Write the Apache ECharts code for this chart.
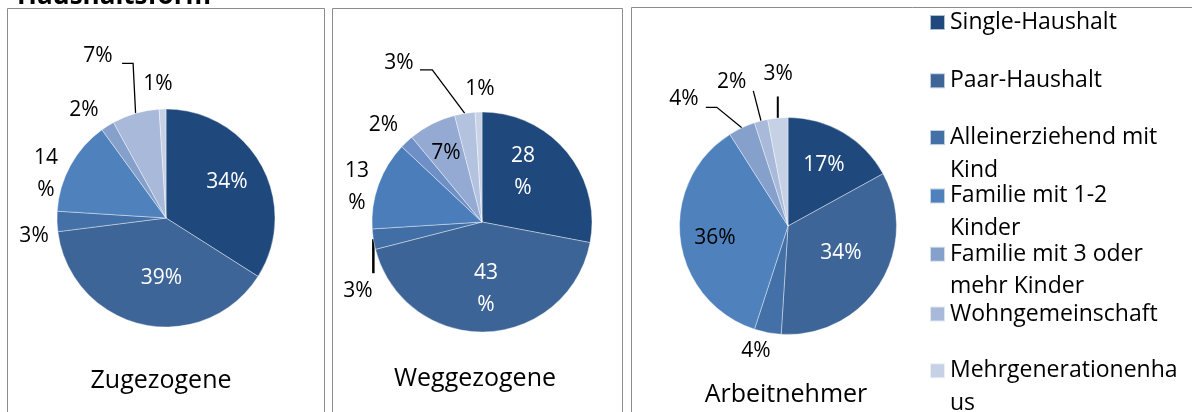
<!DOCTYPE html>
<html>
<head>
<meta charset="utf-8">
<script src="https://cdn.jsdelivr.net/npm/echarts/dist/echarts.min.js"></script>
<style>
  html, body { margin: 0; padding: 0; background: #ffffff; }
  #chart { width: 1192px; height: 412px; }
</style>
</head>
<body>
<div id="chart"></div>
<script>
// ---------------- data ----------------
const chartTitle = 'Haushaltsform';
const categories = [
  'Single-Haushalt',
  'Paar-Haushalt',
  'Alleinerziehend mit Kind',
  'Familie mit 1-2 Kinder',
  'Familie mit 3 oder mehr Kinder',
  'Wohngemeinschaft',
  'Mehrgenerationenhaus'
];
const legendLabels = [
  'Single-Haushalt',
  'Paar-Haushalt',
  'Alleinerziehend mit\nKind',
  'Familie mit 1-2\nKinder',
  'Familie mit 3 oder\nmehr Kinder',
  'Wohngemeinschaft',
  'Mehrgenerationenha\nus'
];
const extraCategory = 'Sonstige';
const weggezogeneCategories = categories.slice(0, 5).concat([extraCategory], categories.slice(5));
const groupTitles = ['Zugezogene', 'Weggezogene', 'Arbeitnehmer'];
const zugezogeneValues = [34, 39, 3, 14, 2, 7, 1];
const weggezogeneValues = [28, 43, 3, 13, 2, 7, 3, 1];
const arbeitnehmerValues = [17, 34, 4, 36, 4, 2, 3];

// ---------------- styles / layout ----------------
const FONT = '"Open Sans", "Noto Sans", sans-serif';
const paletteA = ['#1F497D', '#3E6597', '#4470A8', '#4F81BD', '#84A0CB', '#A8B9D9', '#C6D1E5'];
const paletteB = ['#1F497D', '#3D6496', '#426EA6', '#4A7DBA', '#6F90C6', '#95AAD3', '#B2C2DF', '#C9D3E6'];

// label placement relative to the slice's outer mid-point (at), optional leader line
const labels1 = [
  { at: [-34.5, 16.5], fill: '#ffffff' },
  { at: [19.3, -46.4], fill: '#ffffff' },
  { at: [-23, 14.6] },
  { at: [-24.5, 8.5], wrap: true },
  { at: [-23.6, -16] },
  { at: [-37.6, -57.3], line: [[-2.5, -50], [-13.5, -50]] },
  { at: [-4.6, -25] }
];
const labels2 = [
  { at: [-43.8, 20.1], fill: '#ffffff', wrap: true },
  { at: [0.5, -42.9], fill: '#ffffff', wrap: true },
  { at: [-15.4, 51.8], line: [[0, 34]], lineWidth: 2.5 },
  { at: [-21.5, 1.8], wrap: true },
  { at: [-23.2, -16.8] },
  { at: [13.9, 29.5] },
  { at: [-65.8, -50.4], line: [[-32.5, -43.4], [-44.8, -43.4]] },
  { at: [1.5, -23] }
];
const labels3 = [
  { at: [-19.2, 32.4], fill: '#ffffff' },
  { at: [-38.6, -31.1], fill: '#ffffff' },
  { at: [-11.7, 18.4] },
  { at: [34.6, -1.6] },
  { at: [-57.8, -29], line: [[-25, -20.5], [-36, -20.5]] },
  { at: [-29.3, -39.2], line: [[-7.7, -30]] },
  { at: [0.5, -44.2], line: [[0, -21.5]], lineWidth: 2 }
];

const pies = [
  { values: zugezogeneValues, names: categories, colors: paletteA, center: [166, 218], radius: 109, labels: labels1 },
  { values: weggezogeneValues, names: weggezogeneCategories, colors: paletteB, center: [482, 222], radius: 110, labels: labels2 },
  { values: arbeitnehmerValues, names: categories, colors: paletteA, center: [788, 226], radius: 108.5, labels: labels3 }
];

function makeLayout(spec) {
  return function (p) {
    const s = spec[p.dataIndex];
    const r = p.labelRect;
    const ax = p.align === 'right' ? r.x + r.width : (p.align === 'left' ? r.x : r.x + r.width / 2);
    const ay = r.y + r.height / 2;
    const out = { x: ax + s.at[0], y: ay + s.at[1], align: 'center', verticalAlign: 'middle' };
    if (s.line) {
      const pts = [[ax, ay]].concat(s.line.map(q => [ax + q[0], ay + q[1]]));
      if (pts.length === 2) pts.push(pts[1].slice());
      out.labelLinePoints = pts;
    }
    return out;
  };
}

function buildSeries(cfg) {
  return {
    type: 'pie',
    center: cfg.center,
    radius: cfg.radius,
    startAngle: 90,
    clockwise: true,
    avoidLabelOverlap: false,
    silent: true,
    animation: false,
    itemStyle: { borderColor: 'rgba(255,255,255,0.65)', borderWidth: 0.6 },
    label: {
      show: true,
      position: 'outside',
      distanceToLabelLine: 0,
      fontFamily: FONT,
      fontSize: 21,
      lineHeight: 32,
      color: '#000000',
      formatter: p => cfg.labels[p.dataIndex].wrap ? p.value + '\n%' : p.value + '%'
    },
    labelLine: { show: true, length: 0, length2: 0, smooth: false, lineStyle: { color: '#000000', width: 1.3 } },
    emphasis: { disabled: true, scale: false },
    data: cfg.values.map((v, i) => {
      const s = cfg.labels[i];
      const item = { name: cfg.names[i], value: v, itemStyle: { color: cfg.colors[i] } };
      if (s.fill) item.label = { color: s.fill };
      item.labelLine = { show: !!s.line, lineStyle: { width: s.lineWidth || 1.3 } };
      return item;
    }),
    labelLayout: makeLayout(cfg.labels)
  };
}

const LH = 32.5;
const legendFirst = 21, legendStep = 58.3;
const legends = categories.map((name, i) => {
  const two = legendLabels[i].indexOf('\n') >= 0;
  const yc = legendFirst + i * legendStep;
  return {
    orient: 'vertical',
    left: 929,
    top: two ? yc - 1.5 * LH : yc - LH / 2 + 1.5,
    padding: 0,
    itemWidth: 15,
    itemHeight: 15,
    itemGap: 0,
    icon: 'rect',
    selectedMode: false,
    data: [name],
    // a leading blank line keeps the first text line level with the colour key
    formatter: () => (two ? '\n' : '') + legendLabels[i],
    textStyle: { fontFamily: FONT, fontSize: 23, color: '#000000', lineHeight: LH }
  };
});

const titleStyle = { fontFamily: FONT, fontSize: 25, fontWeight: 'normal', color: '#000000' };
const titleX = [161, 475, 786];
const titleY = [368, 366, 382];

const option = {
  backgroundColor: '#ffffff',
  animation: false,
  title: [
    { text: chartTitle, left: 17, top: -16, padding: 0, textStyle: { fontFamily: FONT, fontSize: 26, fontWeight: 'bold', color: '#000000' } }
  ].concat(groupTitles.map((t, i) => ({ text: t, left: titleX[i], top: titleY[i], textAlign: 'center', padding: 0, textStyle: titleStyle }))),
  legend: legends,
  graphic: [
    { type: 'rect', silent: true, z: -10, shape: { x: 7.5, y: 8.5, width: 317, height: 430 }, style: { fill: null, stroke: '#8c8c8c', lineWidth: 1 } },
    { type: 'rect', silent: true, z: -10, shape: { x: 332.5, y: 8.5, width: 290, height: 430 }, style: { fill: null, stroke: '#8c8c8c', lineWidth: 1 } },
    { type: 'rect', silent: true, z: -10, shape: { x: 631.5, y: 7.5, width: 620, height: 430 }, style: { fill: null, stroke: '#8c8c8c', lineWidth: 1 } }
  ],
  series: pies.map(buildSeries)
};

const chart = echarts.init(document.getElementById('chart'), null, { renderer: 'canvas' });
chart.setOption(option);
</script>
</body>
</html>
